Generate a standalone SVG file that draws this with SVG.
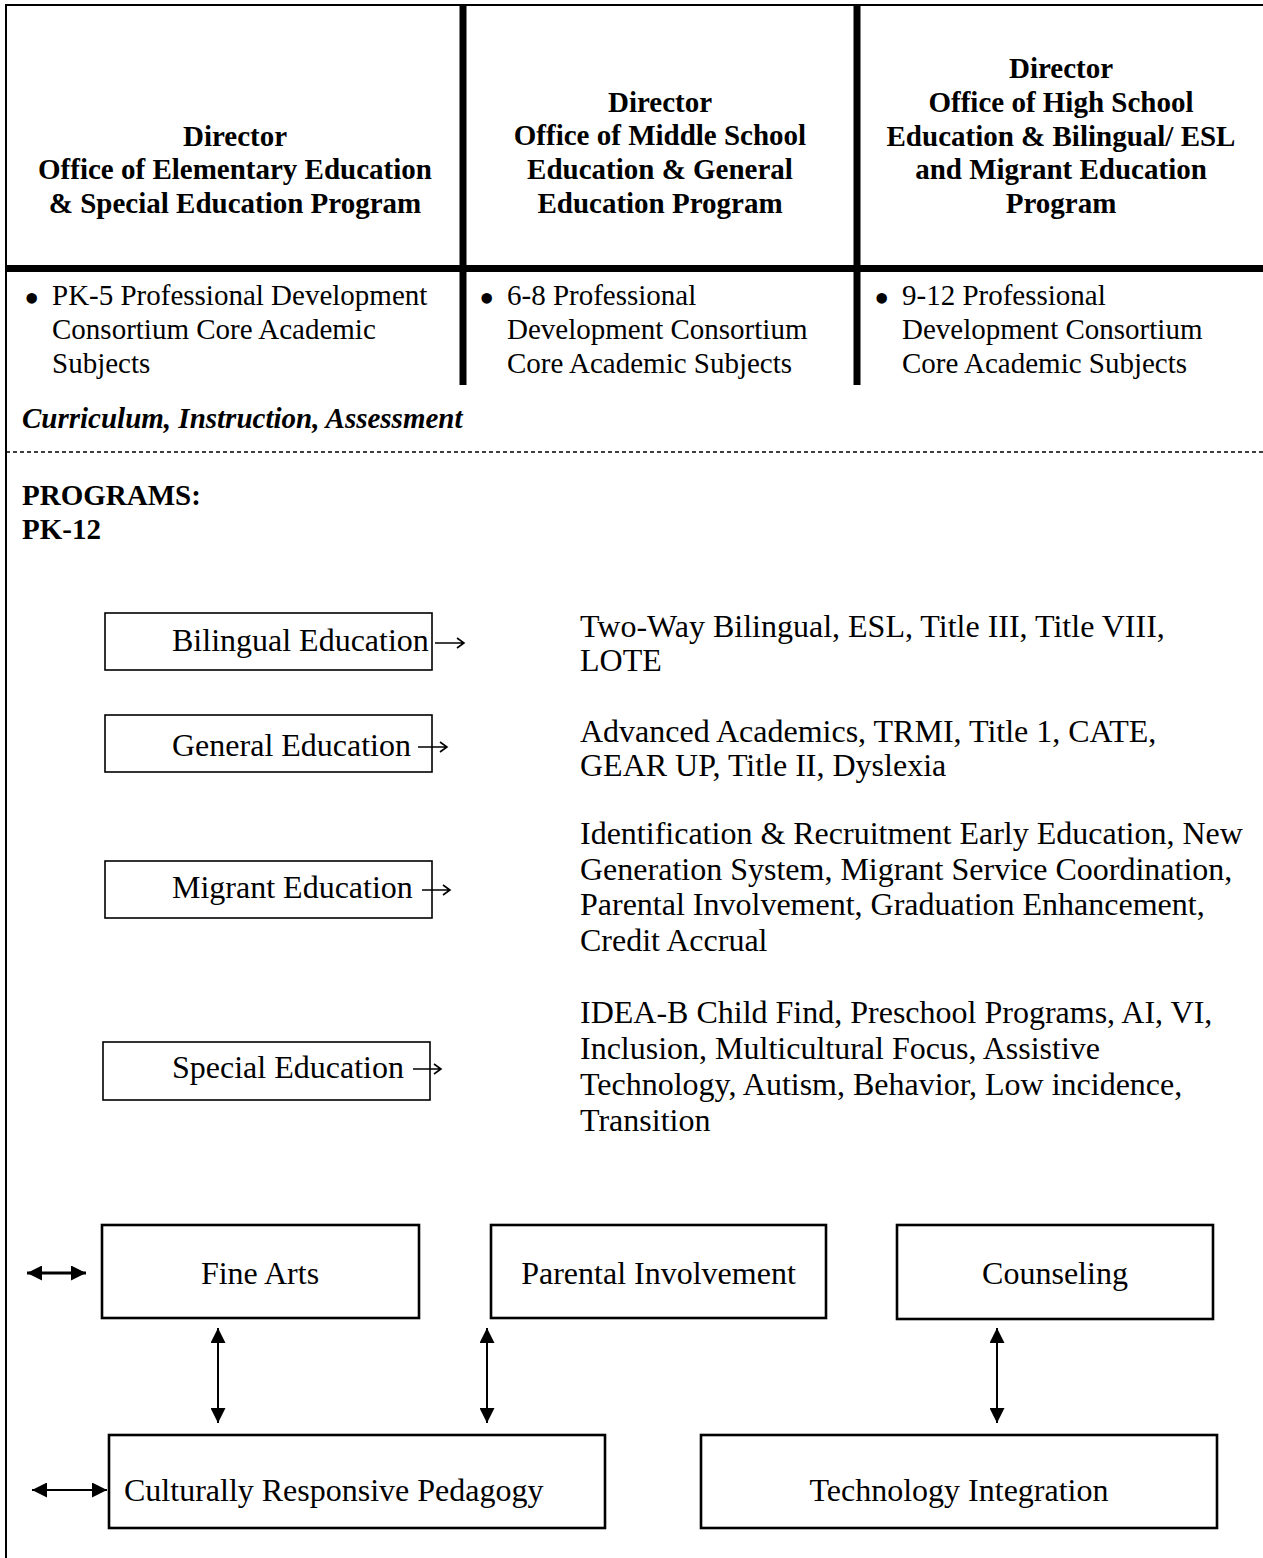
<svg xmlns="http://www.w3.org/2000/svg" width="1263" height="1558" viewBox="0 0 1263 1558">
<style>
text{font-family:"Liberation Serif","Times New Roman",serif;fill:#000}
.h{font-size:29px;font-weight:bold;text-anchor:middle}
.b{font-size:29px}
.bul{font-size:44px}
.t{font-size:32px}
.c{text-anchor:middle}
.thin{fill:none;stroke:#000;stroke-width:2}
.thick{stroke:#000;stroke-width:7;fill:none}
.pbox{fill:none;stroke:#000;stroke-width:1.6}
.nbox{fill:none;stroke:#000;stroke-width:2.6}
.oarr{fill:none;stroke:#000;stroke-width:1.6}
.varr{stroke:#000;stroke-width:2;fill:none}
</style>
<defs>
<marker id="tri" viewBox="0 0 10 10" refX="10" refY="5" markerWidth="15" markerHeight="15" markerUnits="userSpaceOnUse" orient="auto-start-reverse"><path d="M0,0 L10,5 L0,10 z" fill="#000"/></marker>
<marker id="tri2" viewBox="0 0 10 10" refX="10" refY="5" markerWidth="17" markerHeight="15" markerUnits="userSpaceOnUse" orient="auto-start-reverse"><path d="M0,0 L10,5 L0,10 z" fill="#000"/></marker>
</defs>
<rect width="1263" height="1558" fill="#fff"/>
<g id="frame">
<path class="thin" d="M1263,5 H6 V1558"/>
<path class="thick" d="M463,5 V385 M857,5 V385 M6,268.5 H1263"/>
<path d="M6,452 H1263" stroke="#000" stroke-width="1.5" stroke-dasharray="4,3"/>
</g>
<g id="director-elementary">
<text class="h" x="235" y="146">Director</text>
<text class="h" x="235" y="179">Office of Elementary Education</text>
<text class="h" x="235" y="213">&amp; Special Education Program</text>
<text class="bul" x="24" y="313">•</text>
<text class="b" x="52" y="305">PK-5 Professional Development</text>
<text class="b" x="52" y="339">Consortium Core Academic</text>
<text class="b" x="52" y="373">Subjects</text>
</g>
<g id="director-middle">
<text class="h" x="660" y="112">Director</text>
<text class="h" x="660" y="145">Office of Middle School</text>
<text class="h" x="660" y="179">Education &amp; General</text>
<text class="h" x="660" y="213">Education Program</text>
<text class="bul" x="479" y="313">•</text>
<text class="b" x="507" y="305">6-8 Professional</text>
<text class="b" x="507" y="339">Development Consortium</text>
<text class="b" x="507" y="373">Core Academic Subjects</text>
</g>
<g id="director-high">
<text class="h" x="1061" y="78">Director</text>
<text class="h" x="1061" y="112">Office of High School</text>
<text class="h" x="1061" y="146">Education &amp; Bilingual/ ESL</text>
<text class="h" x="1061" y="179">and Migrant Education</text>
<text class="h" x="1061" y="213">Program</text>
<text class="bul" x="874" y="313">•</text>
<text class="b" x="902" y="305">9-12 Professional</text>
<text class="b" x="902" y="339">Development Consortium</text>
<text class="b" x="902" y="373">Core Academic Subjects</text>
</g>
<g id="labels">
<text class="b" x="22" y="428" font-weight="bold" font-style="italic">Curriculum, Instruction, Assessment</text>
<text class="b" x="22" y="505" font-weight="bold">PROGRAMS:</text>
<text class="b" x="22" y="539" font-weight="bold">PK-12</text>
</g>
<g id="bilingual">
<rect class="pbox" x="105" y="613" width="327" height="57"/>
<text class="t" x="172" y="651">Bilingual Education</text>
<text class="t" x="580" y="637">Two-Way Bilingual, ESL, Title III, Title VIII,</text>
<text class="t" x="580" y="671">LOTE</text>
</g>
<g id="general">
<rect class="pbox" x="105" y="715" width="327" height="57"/>
<text class="t" x="172" y="756">General Education</text>
<text class="t" x="580" y="742">Advanced Academics, TRMI, Title 1, CATE,</text>
<text class="t" x="580" y="776">GEAR UP, Title II, Dyslexia</text>
</g>
<g id="migrant">
<rect class="pbox" x="105" y="861" width="327" height="57"/>
<text class="t" x="172" y="898">Migrant Education</text>
<text class="t" x="580" y="844">Identification &amp; Recruitment Early Education, New</text>
<text class="t" x="580" y="880">Generation System, Migrant Service Coordination,</text>
<text class="t" x="580" y="915">Parental Involvement, Graduation Enhancement,</text>
<text class="t" x="580" y="951">Credit Accrual</text>
</g>
<g id="special">
<rect class="pbox" x="103" y="1042" width="327" height="58"/>
<text class="t" x="172" y="1078">Special Education</text>
<text class="t" x="580" y="1023">IDEA-B Child Find, Preschool Programs, AI, VI,</text>
<text class="t" x="580" y="1059">Inclusion, Multicultural Focus, Assistive</text>
<text class="t" x="580" y="1095">Technology, Autism, Behavior, Low incidence,</text>
<text class="t" x="580" y="1131">Transition</text>
</g>
<g id="fine-arts">
<rect class="nbox" x="102" y="1225" width="317" height="93"/>
<text class="t c" x="260" y="1284">Fine Arts</text>
</g>
<g id="parental-involvement">
<rect class="nbox" x="491" y="1225" width="335" height="93"/>
<text class="t c" x="658.5" y="1284">Parental Involvement</text>
</g>
<g id="counseling">
<rect class="nbox" x="897" y="1225" width="316" height="94"/>
<text class="t c" x="1055" y="1284">Counseling</text>
</g>
<g id="culturally-responsive-pedagogy">
<rect class="nbox" x="109" y="1435" width="496" height="93"/>
<text class="t" x="124" y="1501">Culturally Responsive Pedagogy</text>
</g>
<g id="technology-integration">
<rect class="nbox" x="701" y="1435" width="516" height="93"/>
<text class="t c" x="959" y="1501">Technology Integration</text>
</g>
<g id="connectors">
<path class="oarr" d="M435,643 H464 M457,638 L464,643 L457,648"/>
<path class="oarr" d="M418,747 H447 M440,742 L447,747 L440,752"/>
<path class="oarr" d="M422,890 H450 M443,885 L450,890 L443,895"/>
<path class="oarr" d="M413,1069 H441 M434,1064 L441,1069 L434,1074"/>
<line class="varr" x1="218" y1="1328" x2="218" y2="1423" marker-start="url(#tri)" marker-end="url(#tri)"/>
<line class="varr" x1="487" y1="1328" x2="487" y2="1423" marker-start="url(#tri)" marker-end="url(#tri)"/>
<line class="varr" x1="997" y1="1328" x2="997" y2="1423" marker-start="url(#tri)" marker-end="url(#tri)"/>
<line x1="27" y1="1273" x2="86" y2="1273" stroke="#000" stroke-width="3" marker-start="url(#tri2)" marker-end="url(#tri2)"/>
<line x1="32" y1="1490" x2="107" y2="1490" stroke="#000" stroke-width="2" marker-start="url(#tri)" marker-end="url(#tri)"/>
</g>
</svg>
